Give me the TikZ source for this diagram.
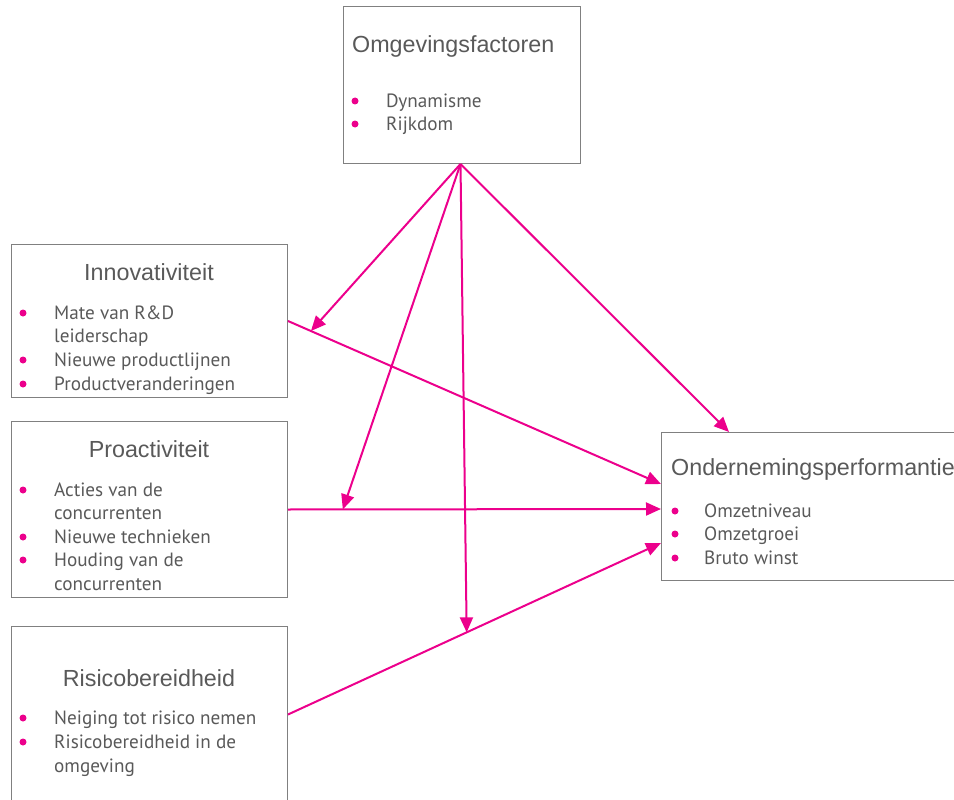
\documentclass[tikz,border=0pt]{standalone}
\usepackage{fontspec}
\setmainfont{PT Sans}
\newfontfamily\titlefont{Liberation Sans}
\usetikzlibrary{arrows.meta,calc}
\definecolor{pinkc}{HTML}{EC008C}
\definecolor{txtc}{HTML}{595959}
\definecolor{boxc}{HTML}{808080}
\tikzset{
  box/.style={draw=boxc, line width=1pt, anchor=north west, inner sep=0pt},
  ttl/.style={text=txtc, font=\titlefont\fontsize{23.3}{26}\selectfont, inner sep=0pt},
  itm/.style={text=txtc, font=\fontsize{19.2}{22}\selectfont, inner sep=0pt, anchor=base west},
  dotc/.style={circle, fill=pinkc, inner sep=0pt, minimum size=7pt},
  conn/.style={draw=pinkc, line width=2pt},
  arr/.style={conn, -{Triangle[length=15pt,width=13pt]}}
}
\begin{document}
\begin{tikzpicture}[x=1pt,y=-1pt]
\useasboundingbox (0,0) rectangle (954,800);
% boxes
\node[box, minimum width=237pt, minimum height=157pt] (omg) at (343,6) {};
\node[box, minimum width=276pt, minimum height=153pt] (inno) at (11,244) {};
\node[box, minimum width=276pt, minimum height=176pt] (pro) at (11,421) {};
\node[box, minimum width=276pt, minimum height=176pt] (ris) at (11,626) {};
\node[box, minimum width=310pt, minimum height=148pt] (ond) at (661,432) {};
% titles
\node[ttl, anchor=west] (tomg) at (352,46) {Omgevingsfactoren};
\node[ttl] (tinno) at (149,272) {Innovativiteit};
\node[ttl] (tpro) at (149,449) {Proactiviteit};
\node[ttl] (tris) at (149,678) {Risicobereidheid};
\node[ttl, anchor=west] (tond) at (671,469) {Ondernemingsperformantie};
% bullets: Omgevingsfactoren
\node[dotc] (d1) at (355,101) {}; \node[itm] (i1) at (386,107) {Dynamisme};
\node[dotc] (d2) at (355,124) {}; \node[itm] (i2) at (386,130) {Rijkdom};
% Innovativiteit
\node[dotc] (d3) at (23,313) {}; \node[itm] (i3) at (54,319) {Mate van R\&D};
\node[itm] (i3b) at (54,342) {leiderschap};
\node[dotc] (d4) at (23,360) {}; \node[itm] (i4) at (54,366) {Nieuwe productlijnen};
\node[dotc] (d5) at (23,384) {}; \node[itm] (i5) at (54,390) {Productveranderingen};
% Proactiviteit
\node[dotc] (d6) at (23,490) {}; \node[itm] (i6) at (54,496) {Acties van de};
\node[itm] (i6b) at (54,519) {concurrenten};
\node[dotc] (d7) at (23,537) {}; \node[itm] (i7) at (54,543) {Nieuwe technieken};
\node[dotc] (d8) at (23,560) {}; \node[itm] (i8) at (54,566) {Houding van de};
\node[itm] (i8b) at (54,590) {concurrenten};
% Risicobereidheid
\node[dotc] (d9) at (23,718) {}; \node[itm] (i9) at (54,724) {Neiging tot risico nemen};
\node[dotc] (d10) at (23,742) {}; \node[itm] (i10) at (54,748) {Risicobereidheid in de};
\node[itm] (i10b) at (54,772) {omgeving};
% Ondernemingsperformantie
\node[dotc] (d11) at (675,511) {}; \node[itm] (i11) at (704,517) {Omzetniveau};
\node[dotc] (d12) at (675,534) {}; \node[itm] (i12) at (704,540) {Omzetgroei};
\node[dotc] (d13) at (675,558) {}; \node[itm] (i13) at (704,564) {Bruto winst};
% target points on Ondernemingsperformantie
\coordinate (oa) at ($(ond.north west)+(0,52)$);
\coordinate (ob) at ($(ond.north west)+(0,77)$);
\coordinate (oc) at ($(ond.north west)+(0,111)$);
\coordinate (otop) at ($(ond.north west)+(68,0)$);
% main arrows
\draw[arr] (inno.east) -- (oa) coordinate[pos=0.0615] (m1);
\draw[arr] (pro.east) -- (ob) coordinate[pos=0.147] (m2);
\draw[arr] (ris.east) -- (oc) coordinate[pos=0.479] (m3);
% moderating arrows
\coordinate (src) at ($(omg.south)+(-1.5,0)$);
\draw[arr] (src) -- (m1);
\draw[arr] (src) -- (m2);
\draw[arr] (src) -- (m3);
\draw[arr] (src) -- (otop);
\end{tikzpicture}
\end{document}
